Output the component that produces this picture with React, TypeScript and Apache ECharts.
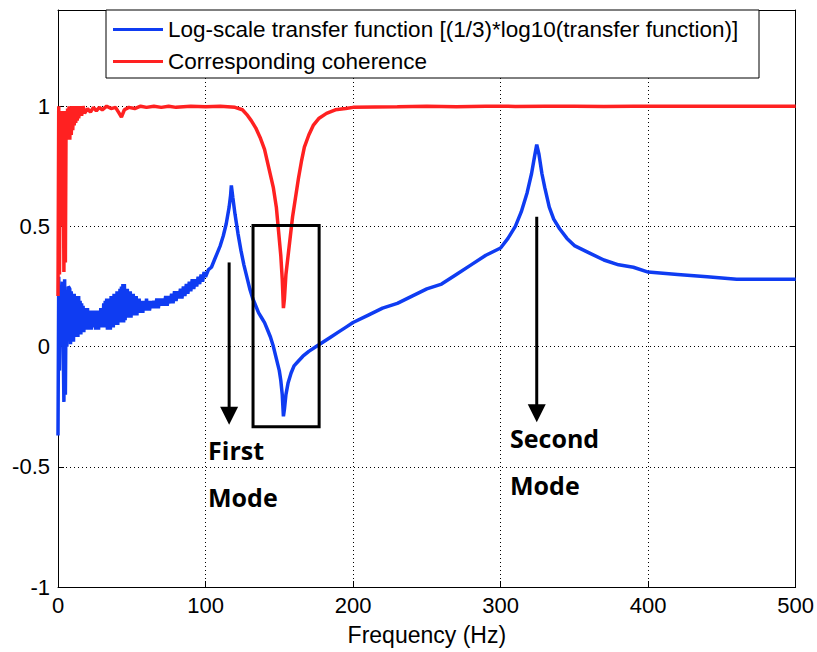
import React, { useEffect, useRef } from "react";
import * as echarts from "echarts";

// ---------- data ----------
const tfFreq = [
  0, 0.5, 1, 1.5, 2, 3, 4, 4.5, 5, 5.5, 6, 7,
  8, 8.5, 9, 9.5, 10, 10.5, 11, 11.5, 12, 12.5, 13, 13.5, 14, 14.5, 15, 15.5, 16, 16.5, 17, 17.5,
  18, 18.5, 19, 19.5, 20, 20.5, 21, 21.5, 22, 22.5, 23, 23.5, 24, 24.5, 25, 25.5, 26, 26.5, 27,
  27.5, 28, 28.5, 29, 29.5, 30, 30.5, 31, 31.5, 32, 32.5, 33, 33.5, 34, 34.5, 35, 35.5, 36, 36.5,
  37, 37.5, 38, 38.5, 39, 39.5, 40, 40.5, 41, 41.5, 42, 42.5, 43, 43.5, 44, 44.5, 45, 45.5, 46,
  46.5, 47, 47.5, 48, 48.5, 49, 49.5, 50, 50.5, 51, 51.5, 52, 52.5, 53, 53.5, 54, 54.5, 55, 55.5,
  56, 56.5, 57, 57.5, 58, 58.5, 59, 59.5, 60, 60.5,
  61, 62, 63, 64, 65, 66, 67, 68, 69, 70, 71, 72, 73, 74, 75, 76, 77, 78, 79, 80, 81, 82, 83, 84,
  85, 86, 87, 88, 89, 90, 91, 92, 93, 94, 95, 96, 97, 98, 99, 100,
  102, 104, 106, 108, 110, 112, 114, 116, 117, 117.5, 118.5, 120, 122, 124, 126, 128, 130, 132,
  134, 136, 138, 140, 142, 144, 146, 148, 150, 151, 152, 152.8, 153.5, 154.5, 156, 158, 160, 163,
  166, 170, 175, 180, 185, 190, 195, 200, 210, 220, 230, 240, 250, 260, 270, 280, 290, 300, 305,
  310, 314, 318, 321, 323, 324.5, 326, 328, 330, 333, 336, 340, 345, 350, 360, 370, 380, 390, 400,
  420, 440, 460, 480, 500,
];
const tfValue = [
  -0.37, 0.29, -0.1, 0.25, 0.05, 0.27, -0.23, 0.28, -0.2, 0.2, 0.0, 0.25,
  0.24, 0.01, 0.23, 0.03, 0.22, 0.02, 0.22, 0.04, 0.21, 0.05, 0.2, 0.04, 0.21, 0.06, 0.19, 0.05,
  0.18, 0.07, 0.17, 0.06, 0.16, 0.07, 0.15, 0.08, 0.16, 0.07, 0.15, 0.08, 0.15, 0.07, 0.15, 0.08,
  0.15, 0.08, 0.14, 0.07, 0.15, 0.08, 0.15, 0.07, 0.15, 0.08, 0.16, 0.08, 0.16, 0.09, 0.18, 0.08,
  0.19, 0.08, 0.2, 0.07, 0.2, 0.08, 0.2, 0.07, 0.21, 0.09, 0.21, 0.08, 0.22, 0.09, 0.22, 0.1,
  0.23, 0.09, 0.23, 0.1, 0.24, 0.1, 0.25, 0.11, 0.26, 0.1, 0.26, 0.11, 0.24, 0.12, 0.24, 0.12,
  0.23, 0.13, 0.23, 0.12, 0.22, 0.13, 0.22, 0.13, 0.21, 0.14, 0.21, 0.13, 0.2, 0.14, 0.2, 0.14,
  0.19, 0.15, 0.19, 0.14, 0.19, 0.15, 0.19, 0.15, 0.2, 0.15,
  0.19, 0.15, 0.19, 0.16, 0.19, 0.16, 0.2, 0.16, 0.2, 0.17, 0.2, 0.17, 0.21, 0.17, 0.21, 0.18,
  0.22, 0.18, 0.23, 0.19, 0.23, 0.2, 0.24, 0.2, 0.25, 0.21, 0.26, 0.22, 0.27, 0.23, 0.28, 0.24,
  0.28, 0.25, 0.29, 0.26, 0.3, 0.27, 0.31, 0.29,
  0.32, 0.33, 0.36, 0.39, 0.42, 0.46, 0.51, 0.58, 0.63, 0.67, 0.62, 0.55, 0.47, 0.4, 0.34, 0.29,
  0.24, 0.2, 0.17, 0.14, 0.12, 0.1, 0.07, 0.04, 0.0, -0.05, -0.1, -0.14, -0.2, -0.29, -0.26, -0.2,
  -0.15, -0.11, -0.08, -0.06, -0.04, -0.02, 0.0, 0.02, 0.04, 0.06, 0.08, 0.1, 0.13, 0.16, 0.18,
  0.21, 0.24, 0.26, 0.3, 0.34, 0.38, 0.41, 0.45, 0.5, 0.56, 0.64, 0.72, 0.79, 0.84, 0.8, 0.72,
  0.66, 0.58, 0.53, 0.49, 0.45, 0.42, 0.39, 0.36, 0.34, 0.33, 0.31, 0.3, 0.29, 0.28, 0.28, 0.28,
];

const cohFreq = [
  0, 0.5, 1, 1.5, 2, 2.5, 3, 3.5, 4, 4.5, 5, 5.5, 6, 6.5, 7, 7.5, 8, 8.5, 9, 9.5, 10, 10.5, 11,
  11.5, 12, 12.5, 13, 13.5, 14, 15, 16, 17, 18, 20, 22, 24, 26, 28, 30, 33, 36, 39, 41, 43, 45,
  48, 52, 56, 60, 65, 70, 75, 80, 90, 100, 110, 120, 125, 128, 131, 134, 137, 140, 143, 146, 148,
  149.5, 151, 152, 152.8, 153.5, 154.5, 156, 157.5, 159, 161, 163, 165, 167, 170, 173, 177, 182,
  188, 195, 200, 215, 230, 250, 270, 290, 310, 330, 350, 370, 390, 410, 430, 450, 470, 490, 500,
];
const cohValue = [
  0.21, 1.0, 0.3, 0.95, 0.5, 0.98, 0.75, 0.98, 0.31, 0.97, 0.35, 0.98, 0.86, 0.99, 0.87, 1.0,
  0.86, 0.99, 0.88, 1.0, 0.9, 0.99, 0.92, 1.0, 0.93, 0.99, 0.94, 1.0, 0.95, 1.0, 0.96, 1.0, 0.97,
  0.99, 0.975, 0.995, 0.98, 0.995, 0.985, 1.0, 0.99, 0.995, 0.975, 0.955, 0.985, 0.995, 0.99, 1.0,
  0.995, 1.0, 0.995, 1.0, 0.995, 1.0, 0.998, 1.0, 0.995, 0.985, 0.965, 0.94, 0.91, 0.87, 0.82,
  0.74, 0.66, 0.58, 0.48, 0.38, 0.28, 0.16, 0.2, 0.3, 0.38, 0.46, 0.54, 0.62, 0.7, 0.77, 0.83,
  0.88, 0.92, 0.95, 0.97, 0.985, 0.99, 0.995, 0.997, 0.998, 1.0, 0.998, 1.0, 0.999, 1.0, 1.0,
  0.999, 1.0, 1.0, 1.0, 1.0, 1.0, 1.0, 1.0,
];

const seriesNames = [
  "Log-scale transfer function [(1/3)*log10(transfer function)]",
  "Corresponding coherence",
];
const xTickInterval = 100;
const yTickInterval = 0.5;
const xRange = [0, 500];
const yRange = [-1, 1.4];

// annotations in data units
const boxCorners = [
  [132.2, 0.504],
  [177, -0.333],
];
const arrows = [
  { f: 116, from: 0.35, to: -0.325 },
  { f: 324.5, from: 0.54, to: -0.315 },
];
const modeLabels = [
  { text: "First", f: 101.7, v: -0.43 },
  { text: "Mode", f: 101.7, v: -0.625 },
  { text: "Second", f: 306.4, v: -0.38 },
  { text: "Mode", f: 306.4, v: -0.575 },
];

const FONT = "'Liberation Sans', Arial, sans-serif";

export default function App() {
  const ref = useRef<HTMLDivElement>(null);
  useEffect(() => {
    if (!ref.current) return;
    const chart = echarts.init(ref.current, null, { renderer: "svg" });
    const axisCommon = {
      axisLine: { show: true, onZero: false, lineStyle: { color: "#000", width: 1 } },
      axisTick: { show: true, inside: true, length: 6, lineStyle: { color: "#000" } },
    };
    const splitLine = { show: true, lineStyle: { color: "#000", width: 1, type: [1, 3] } };
    const option: any = {
      animation: false,
      backgroundColor: "#fff",
      grid: { left: 58, right: 21, top: 10, bottom: 65, containLabel: false },
      legend: {
        data: seriesNames,
        orient: "vertical",
        left: 106,
        top: 10,
        padding: [8, 10, 8, 7],
        itemGap: 9,
        itemWidth: 50,
        itemHeight: 3,
        icon: "rect",
        selectedMode: false,
        z: 10,
        textStyle: { fontFamily: FONT, fontSize: 22.5, color: "#000", lineHeight: 22 },
      },
      xAxis: [
        {
          ...axisCommon,
          type: "value",
          position: "bottom",
          min: xRange[0],
          max: xRange[1],
          interval: xTickInterval,
          splitLine,
          axisLabel: { fontFamily: FONT, fontSize: 22, color: "#000", margin: 7 },
          name: "Frequency (Hz)",
          nameLocation: "middle",
          nameGap: 36,
          nameTextStyle: { fontFamily: FONT, fontSize: 23, color: "#000" },
        },
        {
          ...axisCommon,
          type: "value",
          position: "top",
          min: xRange[0],
          max: xRange[1],
          interval: xTickInterval,
          splitLine: { show: false },
          axisLabel: { show: false },
        },
      ],
      yAxis: [
        {
          ...axisCommon,
          type: "value",
          position: "left",
          min: yRange[0],
          max: yRange[1],
          interval: yTickInterval,
          splitLine,
          axisLabel: {
            fontFamily: FONT,
            fontSize: 22,
            color: "#000",
            margin: 8,
            showMaxLabel: false,
            formatter: (v: number) => String(Math.round(v * 10) / 10),
          },
        },
        {
          ...axisCommon,
          type: "value",
          position: "right",
          min: yRange[0],
          max: yRange[1],
          interval: yTickInterval,
          splitLine: { show: false },
          axisLabel: { show: false },
        },
      ],
      series: [
        {
          name: seriesNames[0],
          type: "line",
          xAxisIndex: 0,
          yAxisIndex: 0,
          data: tfFreq.map((f, i) => [f, tfValue[i]]),
          showSymbol: false,
          symbol: "none",
          lineStyle: { color: "#0f3cf2", width: 3.5 },
          itemStyle: { color: "#0f3cf2" },
          z: 2,
        },
        {
          name: seriesNames[1],
          type: "line",
          xAxisIndex: 0,
          yAxisIndex: 0,
          data: cohFreq.map((f, i) => [f, cohValue[i]]),
          showSymbol: false,
          symbol: "none",
          lineStyle: { color: "#ff2121", width: 3.5 },
          itemStyle: { color: "#ff2121" },
          z: 3,
        },
      ],
    };
    chart.setOption(option);

    const px = (f: number, v: number) =>
      chart.convertToPixel({ xAxisIndex: 0, yAxisIndex: 0 }, [f, v]) as number[];

    const graphics: any[] = [];
    // legend box
    graphics.push({
      type: "rect",
      shape: { x: 106, y: 10, width: 653, height: 68 },
      style: { fill: "#fff", stroke: "#000", lineWidth: 1 },
      z: 5,
    });
    // rectangle around the anti-resonance
    const p1 = px(boxCorners[0][0], boxCorners[0][1]);
    const p2 = px(boxCorners[1][0], boxCorners[1][1]);
    graphics.push({
      type: "rect",
      shape: { x: p1[0], y: p1[1], width: p2[0] - p1[0], height: p2[1] - p1[1] },
      style: { fill: "none", stroke: "#000", lineWidth: 3 },
      z: 6,
    });
    arrows.forEach((a) => {
      const s = px(a.f, a.from);
      const t = px(a.f, a.to);
      graphics.push({
        type: "line",
        shape: { x1: s[0], y1: s[1], x2: t[0], y2: t[1] - 14 },
        style: { stroke: "#000", lineWidth: 3 },
        z: 6,
      });
      graphics.push({
        type: "polygon",
        shape: {
          points: [
            [t[0] - 9, t[1] - 18],
            [t[0] + 9, t[1] - 18],
            [t[0], t[1]],
          ],
        },
        style: { fill: "#000" },
        z: 6,
      });
    });
    modeLabels.forEach((l) => {
      const p = px(l.f, l.v);
      graphics.push({
        type: "text",
        x: p[0],
        y: p[1],
        style: {
          text: l.text,
          fontFamily: "'Open Sans', 'Noto Sans', sans-serif",
          fontWeight: "bold",
          fontSize: 25,
          fill: "#000",
          align: "left",
          verticalAlign: "middle",
        },
        z: 6,
      });
    });
    chart.setOption({ graphic: graphics });

    return () => chart.dispose();
  }, []);
  return (
    <div
      ref={ref}
      style={{ position: "fixed", left: 0, top: 0, width: 817, height: 652, background: "#fff" }}
    />
  );
}
